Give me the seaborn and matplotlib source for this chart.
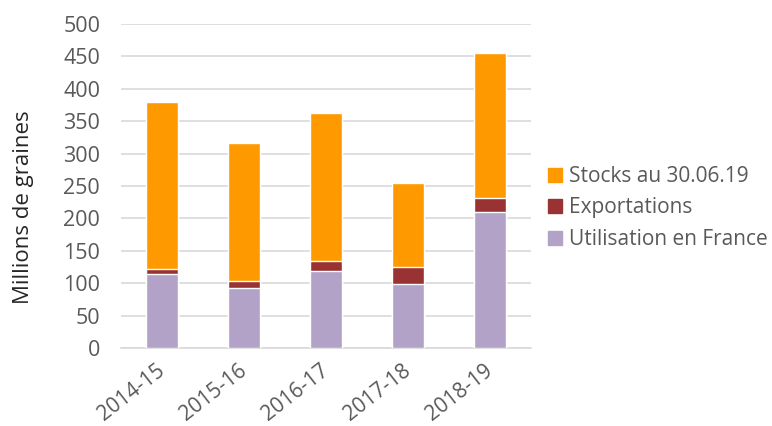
import matplotlib
matplotlib.use("Agg")
import matplotlib.pyplot as plt
import matplotlib.patches as mpatches
import matplotlib.transforms as mtransforms
import seaborn as sns
import pandas as pd

categories = ["2014-15", "2015-16", "2016-17", "2017-18", "2018-19"]
utilisation = [114, 92, 119, 99, 210]
exportations = [8, 12, 15, 26, 22]
stocks = [258, 212, 228, 130, 224]

series_names = ["Stocks au 30.06.19", "Exportations", "Utilisation en France"]
colors = {"Stocks au 30.06.19": "#FF9900", "Exportations": "#993333", "Utilisation en France": "#B3A2C7"}

sns.set_theme(style="white")
plt.rcParams["font.family"] = ["Open Sans", "DejaVu Sans"]
text_color = "#595959"

df = pd.DataFrame({"cat": categories, "util": utilisation, "exp": exportations, "stk": stocks})
df["lvl2"] = df["util"] + df["exp"]
df["lvl3"] = df["lvl2"] + df["stk"]

W, H = 772, 426
fig = plt.figure(figsize=(W / 100, H / 100), dpi=100)
ax = fig.add_axes([121 / W, 1 - 348 / H, 410 / W, 324 / H])

bw = 0.39
sns.barplot(data=df, x="cat", y="lvl3", color=colors["Stocks au 30.06.19"], width=bw, saturation=1, ax=ax, zorder=3)
sns.barplot(data=df, x="cat", y="lvl2", color=colors["Exportations"], width=bw, saturation=1, ax=ax, zorder=3)
sns.barplot(data=df, x="cat", y="util", color=colors["Utilisation en France"], width=bw, saturation=1, ax=ax, zorder=3)

ax.set_xlim(-0.5, 4.5)
ax.set_ylim(0, 500)
ax.set_yticks(range(0, 501, 50))
ax.yaxis.grid(True, color="#D9D9D9", linewidth=1.2, zorder=0)
ax.set_axisbelow(True)
for s in ["top", "right", "left"]:
    ax.spines[s].set_visible(False)
ax.spines["bottom"].set_color("#D9D9D9")
ax.spines["bottom"].set_linewidth(1.2)

ax.tick_params(axis="y", length=0, labelsize=15.5, colors=text_color, pad=15)
ax.tick_params(axis="x", length=0, labelsize=15, colors=text_color, pad=9)
ax.set_xticks(range(len(categories)))
ax.set_xticklabels(categories, rotation=38, ha="right", rotation_mode="anchor")
offset = mtransforms.ScaledTranslation(-6 / 100, 0, fig.dpi_scale_trans)
for lbl in ax.get_xticklabels():
    lbl.set_transform(lbl.get_transform() + offset)
ax.set_xlabel("")
ax.set_ylabel("")
fig.text(24 / W, 1 - 207 / H, "Millions de graines", rotation=90, fontsize=16,
         color="#262626", ha="center", va="center")

handles = [mpatches.Patch(color=colors[n], label=n) for n in series_names]
leg = fig.legend(handles=handles, loc="center left", bbox_to_anchor=(548 / W, 1 - 208 / H),
                 frameon=False, fontsize=15, handlelength=0.65, handleheight=0.65,
                 handletextpad=0.35, labelspacing=0.5, borderpad=0, borderaxespad=0)
for t in leg.get_texts():
    t.set_color(text_color)

fig.savefig("out.png", dpi=100)
